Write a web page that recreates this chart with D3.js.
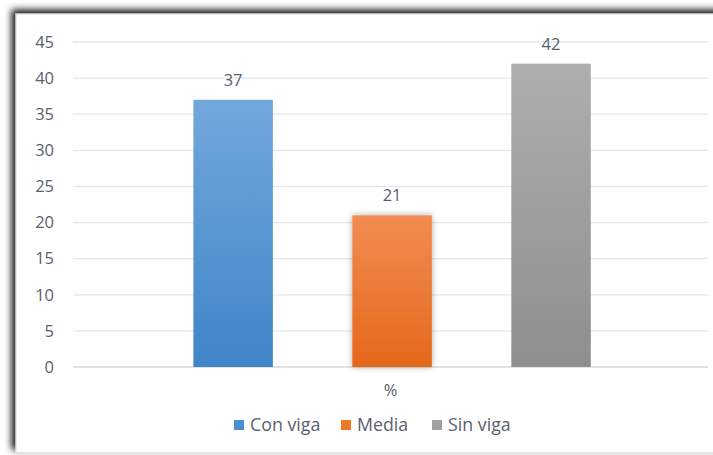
<!DOCTYPE html>
<html>
<head>
<meta charset="utf-8">
<script src="https://cdn.jsdelivr.net/npm/d3@7"></script>
<style>
  html, body { margin: 0; padding: 0; background: #ffffff; }
  svg { display: block; }
  text { font-family: "Open Sans", "Noto Sans", sans-serif; fill: #595f6e; }
</style>
</head>
<body>
<svg id="chart" width="713" height="455"></svg>
<script>
// Chart data
const categories = ["%"];
const seriesNames = ["Con viga", "Media", "Sin viga"];
const seriesValues = [37, 21, 42];
const yTicks = [0, 5, 10, 15, 20, 25, 30, 35, 40, 45];

// Gradient stops per series: [top, bottom]
const seriesColors = [["#72a7dc", "#3f85c8"], ["#f28c52", "#e4681a"], ["#aeaeae", "#8e8e8e"]];
const legendColors = ["#4a8fd2", "#ee7828", "#a0a0a0"];

const svg = d3.select("#chart");
const W = 713, H = 455;
const plot = { left: 73, right: 708, top: 42, bottom: 367 };

const defs = svg.append("defs");

// Frame shadow
const fShadow = defs.append("filter").attr("id", "frameShadow")
  .attr("x", "-5%").attr("y", "-5%").attr("width", "110%").attr("height", "110%");
fShadow.append("feGaussianBlur").attr("in", "SourceAlpha").attr("stdDeviation", 3.5).attr("result", "b");
fShadow.append("feOffset").attr("in", "b").attr("dx", -4).attr("dy", -4).attr("result", "o");
fShadow.append("feComponentTransfer").attr("in", "o").attr("result", "s")
  .append("feFuncA").attr("type", "linear").attr("slope", 0.9);
const fm = fShadow.append("feMerge");
fm.append("feMergeNode").attr("in", "s");
fm.append("feMergeNode").attr("in", "SourceGraphic");

// Soft glow for the highlighted bar
const bShadow = defs.append("filter").attr("id", "barShadow")
  .attr("x", "-30%").attr("y", "-10%").attr("width", "160%").attr("height", "120%");
bShadow.append("feGaussianBlur").attr("in", "SourceAlpha").attr("stdDeviation", 3).attr("result", "b");
bShadow.append("feComponentTransfer").attr("in", "b").attr("result", "s")
  .append("feFuncA").attr("type", "linear").attr("slope", 0.35);
const bm = bShadow.append("feMerge");
bm.append("feMergeNode").attr("in", "s");
bm.append("feMergeNode").attr("in", "SourceGraphic");

seriesColors.forEach((c, i) => {
  const g = defs.append("linearGradient").attr("id", "grad" + i)
    .attr("x1", 0).attr("y1", 0).attr("x2", 0).attr("y2", 1);
  g.append("stop").attr("offset", "0%").attr("stop-color", c[0]);
  g.append("stop").attr("offset", "100%").attr("stop-color", c[1]);
});

// Chart frame
svg.append("rect").attr("x", 0).attr("y", 0).attr("width", W).attr("height", H).attr("fill", "#ffffff");
svg.append("rect")
  .attr("x", 16).attr("y", 14).attr("width", W + 20).attr("height", 439)
  .attr("fill", "#ffffff").attr("stroke", "#d4d7dc").attr("stroke-width", 1.2)
  .attr("filter", "url(#frameShadow)");

// Scales
const y = d3.scaleLinear().domain([0, 45]).range([plot.bottom, plot.top]);
const x0 = d3.scaleBand().domain(categories).range([plot.left, plot.right]).padding(0);
const x1 = d3.scaleBand().domain(seriesNames)
  .range([x0(categories[0]) + x0.bandwidth() * 0.127, x0(categories[0]) + x0.bandwidth() * 0.878])
  .paddingInner(0.5).paddingOuter(0.25);

// Gridlines
svg.append("g").selectAll("line").data(yTicks).join("line")
  .attr("x1", plot.left).attr("x2", plot.right)
  .attr("y1", d => y(d)).attr("y2", d => y(d))
  .attr("stroke", d => d === 0 ? "#d6d9de" : "#e3e6ec").attr("stroke-width", 1.3);

// Y axis
const yAxis = svg.append("g").attr("transform", `translate(${plot.left - 19},0)`)
  .call(d3.axisLeft(y).tickValues(yTicks).tickSize(0).tickPadding(0));
yAxis.select(".domain").remove();
yAxis.selectAll("text").style("font-size", "16.5px").attr("fill", "#595f6e")
  .style("font-family", "'Open Sans', sans-serif");

// Bars
const bars = seriesNames.map((s, i) => ({ name: s, value: seriesValues[i], i }));
svg.append("g").selectAll("rect").data(bars).join("rect")
  .attr("x", d => x1(d.name))
  .attr("y", d => y(d.value))
  .attr("width", x1.bandwidth())
  .attr("height", d => y(0) - y(d.value))
  .attr("fill", d => `url(#grad${d.i})`)
  .attr("filter", d => d.i === 1 ? "url(#barShadow)" : null);

// Value labels
svg.append("g").selectAll("text").data(bars).join("text")
  .attr("x", d => x1(d.name) + x1.bandwidth() / 2)
  .attr("y", d => y(d.value) - 14)
  .attr("text-anchor", "middle")
  .style("font-size", "16.5px")
  .text(d => d.value);

// Category label
svg.append("text")
  .attr("x", x0(categories[0]) + x0.bandwidth() / 2)
  .attr("y", 396)
  .attr("text-anchor", "middle")
  .style("font-size", "16.5px")
  .text(categories[0]);

// Legend
const legendItems = [
  { name: seriesNames[0], sx: 234 },
  { name: seriesNames[1], sx: 341 },
  { name: seriesNames[2], sx: 432 }
];
const lg = svg.append("g");
legendItems.forEach((d, i) => {
  lg.append("rect").attr("x", d.sx).attr("y", 420).attr("width", 10).attr("height", 10)
    .attr("fill", legendColors[i]);
  lg.append("text").attr("x", d.sx + 16).attr("y", 431)
    .style("font-size", "17.8px").text(d.name);
});
</script>
</body>
</html>
